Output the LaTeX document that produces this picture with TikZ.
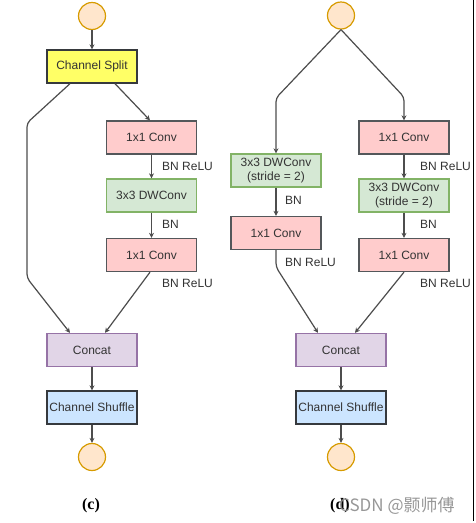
\documentclass[tikz,border=0pt]{standalone}
\usepackage{fontspec}
\setmainfont{Liberation Sans}
\newfontfamily\capfont{Liberation Serif}
\newfontfamily\cjkfont{Noto Sans CJK SC}
\usetikzlibrary{arrows.meta}

\definecolor{edgegray}{HTML}{4D4D4D}
\definecolor{txtgray}{HTML}{333333}
\definecolor{ioFill}{HTML}{FFE6CC}
\definecolor{ioDraw}{HTML}{D79B00}
\definecolor{splitFill}{HTML}{FFFF66}
\definecolor{convFill}{HTML}{FFCCCC}
\definecolor{dwFill}{HTML}{D5E8D4}
\definecolor{dwDraw}{HTML}{82B366}
\definecolor{catFill}{HTML}{E1D5E7}
\definecolor{catDraw}{HTML}{9673A6}
\definecolor{shufFill}{HTML}{CCE5FF}
\definecolor{boxDraw}{HTML}{36393D}

\tikzset{
  blk/.style={draw, line width=1.3pt, minimum width=90pt, minimum height=33pt,
    inner sep=0pt, align=center, text=txtgray, font=\fontsize{12}{14}\selectfont},
  iocirc/.style={circle, draw=ioDraw, fill=ioFill, line width=1.2pt, minimum size=27pt, inner sep=0pt},
  splitbox/.style={blk, fill=splitFill, draw=boxDraw},
  convbox/.style={blk, fill=convFill, draw=boxDraw!85},
  dwbox/.style={blk, fill=dwFill, draw=dwDraw},
  catbox/.style={blk, fill=catFill, draw=catDraw},
  shufbox/.style={blk, fill=shufFill, draw=boxDraw},
  link/.style={draw=edgegray, line width=1.2pt, rounded corners=4pt,
    -{Stealth[length=5pt,width=5pt]}},
  lbl/.style={anchor=west, inner sep=0pt, text=txtgray, font=\fontsize{12}{14}\selectfont}
}

\begin{document}
\begin{tikzpicture}[x=1pt, y=-1pt]
  \useasboundingbox (0,0) rectangle (475,523);
  \fill[white] (0,0) rectangle (475,523);

  % (c) basic unit
  \node[iocirc] (inC) at (92,16) {};
  \node[splitbox] (split) at (92,66.5) {Channel Split};
  \node[convbox] (convA1) at (151.5,137.5) {1x1 Conv};
  \node[dwbox] (dwA) at (151.5,195.5) {3x3 DWConv};
  \node[convbox] (convA2) at (151.5,255) {1x1 Conv};
  \node[catbox] (catC) at (92,350) {Concat};
  \node[shufbox] (shufC) at (92,407.5) {Channel Shuffle};
  \node[iocirc] (outC) at (92,457) {};

  \coordinate (skipTop) at (27,123);
  \coordinate (skipBot) at (27,278);

  \draw[link] (inC) -- (split);
  \draw[link] ([xshift=-22pt]split.south) -- (skipTop) -- (skipBot) -- ([xshift=-22pt]catC.north);
  \draw[link] ([xshift=23pt]split.south) -- ([xshift=-1.5pt]convA1.north);
  \draw[link] (convA1) -- (dwA);
  \draw[link] (dwA) -- (convA2);
  \draw[link] ([xshift=-1.5pt]convA2.south) -- ([xshift=13pt]catC.north);
  \draw[link] (catC) -- (shufC);
  \draw[link] (shufC) -- (outC);

  \node[lbl] (lA1) at (162,166) {BN ReLU};
  \node[lbl] (lA2) at (162,224) {BN};
  \node[lbl] (lA3) at (162,283) {BN ReLU};

  \node (capC) at (91,506) {\capfont\bfseries\fontsize{16}{18}\selectfont(c)};

  % (d) down-sampling unit
  \node[iocirc] (inD) at (341,15.5) {};
  \node[dwbox] (dwL) at (276,170.5) {3x3 DWConv\\(stride = 2)};
  \node[convbox] (convL) at (276,233) {1x1 Conv};
  \node[convbox] (convR1) at (404,137.5) {1x1 Conv};
  \node[dwbox] (dwR) at (404,195.5) {3x3 DWConv\\(stride = 2)};
  \node[convbox] (convR2) at (404,255) {1x1 Conv};
  \node[catbox] (catD) at (341,350) {Concat};
  \node[shufbox] (shufD) at (341,407.5) {Channel Shuffle};
  \node[iocirc] (outD) at (341,457) {};

  \coordinate (bendL) at (276,98);
  \coordinate (bendR) at (404,97);
  \coordinate (bendL2) at (276,267);

  \draw[link] (inD.south) -- (bendL) -- (dwL.north);
  \draw[link] (inD.south) -- (bendR) -- (convR1.north);
  \draw[link] (dwL) -- (convL);
  \draw[link] (convR1) -- (dwR);
  \draw[link] (dwR) -- (convR2);
  \draw[link] (convL.south) -- (bendL2) -- ([xshift=-23pt]catD.north);
  \draw[link] (convR2.south) -- ([xshift=14pt]catD.north);
  \draw[link] (catD) -- (shufD);
  \draw[link] (shufD) -- (outD);

  \node[lbl] (lL1) at (285,200) {BN};
  \node[lbl] (lL2) at (285,262) {BN ReLU};
  \node[lbl] (lR1) at (420,166) {BN ReLU};
  \node[lbl] (lR2) at (420,224) {BN};
  \node[lbl] (lR3) at (420,283) {BN ReLU};

  \node (capD) at (340,506) {\capfont\bfseries\fontsize{16}{18}\selectfont(d)};
  \node[anchor=west, inner sep=0pt, text=black!45, opacity=0.9] (mark) at (339,506)
    {\cjkfont\fontsize{17}{19}\selectfont CSDN @颢师傅};

  % page edge
  \coordinate (edgeTop) at (473.5,0);
  \coordinate (edgeBot) at (473.5,521);
  \draw[black, line width=0.8pt] (edgeTop) -- (edgeBot);
\end{tikzpicture}
\end{document}
